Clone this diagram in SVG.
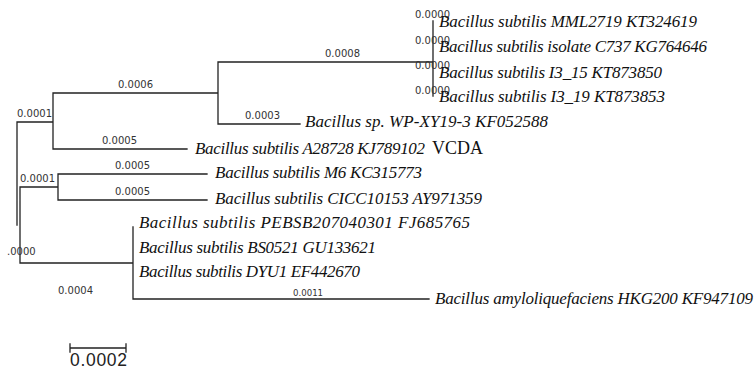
<svg xmlns="http://www.w3.org/2000/svg" width="754" height="370" viewBox="0 0 754 370">
<style>
.br{stroke:#222;stroke-width:1.3;fill:none;stroke-linecap:square}
.lb{font-family:"DejaVu Sans",Verdana,sans-serif;font-size:10px;fill:#333}
.tx{font-family:"Liberation Serif","Times New Roman",serif;font-style:italic;font-size:17px;fill:#111}
.up{font-family:"Liberation Serif","Times New Roman",serif;font-size:18px;fill:#111}
</style>
<rect width="754" height="370" fill="#fff"/>
<g id="connectors">
<path class="br" d="M17,122 V225 M20,187 V263 M17,122 H53 M53,93 V149 M53,93 H218 M218,62 V124 M218,62 H433 M433,21 V96 M218,124 H300 M53,149 H187 M20,187 H58 M58,174 V200 M58,174 H207 M58,200 H207 M20,263 H133 M133,227 V299 M133,299 H429"/>
</g>
<g id="branch-labels">
<text class="lb" x="118" y="88">0.0006</text>
<text class="lb" x="17" y="117">0.0001</text>
<text class="lb" x="325" y="57">0.0008</text>
<text class="lb" x="415" y="18">0.0000</text>
<text class="lb" x="415" y="44">0.0000</text>
<text class="lb" x="415" y="69">0.0000</text>
<text class="lb" x="415" y="94">0.0000</text>
<text class="lb" x="245" y="119">0.0003</text>
<text class="lb" x="102" y="144">0.0005</text>
<text class="lb" x="115" y="169">0.0005</text>
<text class="lb" x="115" y="195">0.0005</text>
<text class="lb" x="20" y="182">0.0001</text>
<text class="lb" x="7" y="255">.0000</text>
<text class="lb" x="58" y="294">0.0004</text>
<text class="lb" x="293" y="296" style="font-size:8.6px">0.0011</text>
</g>
<g id="tip-MML2719"><text class="tx" x="439" y="27" textLength="258">Bacillus subtilis MML2719 KT324619</text></g>
<g id="tip-C737"><text class="tx" x="439" y="52" textLength="268">Bacillus subtilis isolate C737 KG764646</text></g>
<g id="tip-I3_15"><text class="tx" x="439" y="78" textLength="223">Bacillus subtilis I3_15 KT873850</text></g>
<g id="tip-I3_19"><text class="tx" x="439" y="102" textLength="226">Bacillus subtilis I3_19 KT873853</text></g>
<g id="tip-WP"><text class="tx" x="305" y="127" textLength="243">Bacillus sp. WP-XY19-3 KF052588</text></g>
<g id="tip-A28728"><text class="tx" x="195" y="154" textLength="230">Bacillus subtilis A28728 KJ789102</text><text class="up" x="432" y="154">VCDA</text></g>
<g id="tip-M6"><text class="tx" x="215" y="178" textLength="207">Bacillus subtilis M6 KC315773</text></g>
<g id="tip-CICC"><text class="tx" x="215" y="204" textLength="267">Bacillus subtilis CICC10153 AY971359</text></g>
<g id="tip-PEBSB"><text class="tx" x="139" y="228" textLength="331">Bacillus subtilis PEBSB207040301 FJ685765</text></g>
<g id="tip-BS0521"><text class="tx" x="139" y="253" textLength="237">Bacillus subtilis BS0521 GU133621</text></g>
<g id="tip-DYU1"><text class="tx" x="139" y="277" textLength="221">Bacillus subtilis DYU1 EF442670</text></g>
<g id="tip-HKG200"><text class="tx" x="435" y="304" textLength="318">Bacillus amyloliquefaciens HKG200 KF947109</text></g>
<g id="scale-bar">
<path class="br" d="M70,348 H126 M70,344 V352 M126,344 V352"/>
<text x="70" y="366" style="font-family:'Liberation Sans',Arial,sans-serif;font-size:17.5px;fill:#222" textLength="57">0.0002</text>
</g>
</svg>
